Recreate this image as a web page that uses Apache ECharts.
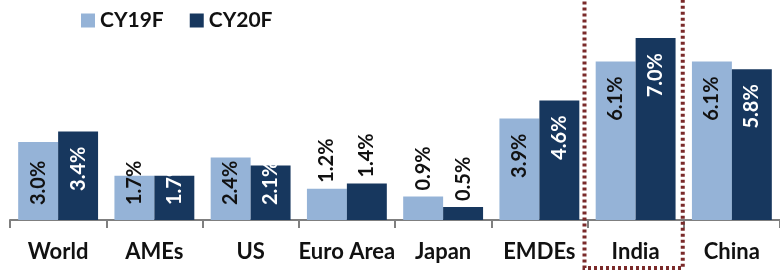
<!DOCTYPE html>
<html>
<head>
<meta charset="utf-8">
<script src="https://cdn.jsdelivr.net/npm/echarts@6/dist/echarts.min.js"></script>
<style>
  html, body { margin: 0; padding: 0; background: #fff; }
  #chart { width: 780px; height: 271px; }
</style>
</head>
<body>
<div id="chart"></div>
<script>
const categories = ['World', 'AMEs', 'US', 'Euro Area', 'Japan', 'EMDEs', 'India', 'China']
const seriesNames = ['CY19F', 'CY20F']
const cy19 = [3.0, 1.7, 2.4, 1.2, 0.9, 3.9, 6.1, 6.1]
const cy20 = [3.4, 1.7, 2.1, 1.4, 0.5, 4.6, 7.0, 5.8]
const highlight = 'India'

const FONT = 'Lato'
const LIGHT = '#95B3D7'
const DARK = '#17375E'

// label placement rule: tall bars get the label near the top, short ones near the base, tiny ones above
function labelFor (v, color) {
  if (v < 1.5) {
    return { position: 'top', distance: 6, align: 'left', verticalAlign: 'middle', color: '#111' }
  }
  if (v < 3.2) {
    return { position: 'insideBottom', distance: 15, align: 'left', verticalAlign: 'middle', color: color }
  }
  return { position: 'insideTop', distance: 15, align: 'right', verticalAlign: 'middle', color: color }
}

function buildData (values, color) {
  return values.map(v => ({ value: v, label: labelFor(v, color) }))
}

const chart = echarts.init(document.getElementById('chart'))

const baseLabel = {
  show: true,
  rotate: 90,
  fontFamily: FONT,
  fontWeight: 'bold',
  fontSize: 20,
  formatter: p => p.value.toFixed(1) + '%'
}

const option = {
  animation: false,
  legend: {
    left: 81,
    top: 10,
    padding: 0,
    icon: 'rect',
    itemWidth: 14,
    itemHeight: 14,
    itemGap: 26,
    textStyle: { fontFamily: FONT, fontWeight: 'bold', fontSize: 21, color: '#111' },
    data: seriesNames
  },
  grid: { left: 10, right: -4, top: 12, bottom: 51, containLabel: false },
  xAxis: {
    type: 'category',
    data: categories,
    axisLine: { show: true, lineStyle: { color: '#7f7f7f', width: 2 } },
    axisTick: { show: true, length: 8, lineStyle: { color: '#7f7f7f', width: 2 } },
    axisLabel: { interval: 0, margin: 21, fontFamily: FONT, fontWeight: 'bold', fontSize: 22, color: '#111' }
  },
  yAxis: {
    type: 'value',
    min: 0,
    max: 8,
    show: false,
    splitLine: { show: false }
  },
  series: [
    {
      name: seriesNames[0],
      type: 'bar',
      barGap: 0,
      barCategoryGap: '17%',
      itemStyle: { color: LIGHT },
      label: baseLabel,
      data: buildData(cy19, '#111')
    },
    {
      name: seriesNames[1],
      type: 'bar',
      barGap: 0,
      barCategoryGap: '17%',
      itemStyle: { color: DARK },
      label: baseLabel,
      data: buildData(cy20, '#fff')
    }
  ]
}
chart.setOption(option)

// dotted box around the highlighted category, placed from the axis scale
const idx = categories.indexOf(highlight)
const c0 = chart.convertToPixel({ xAxisIndex: 0 }, idx)
const c1 = chart.convertToPixel({ xAxisIndex: 0 }, idx + 1)
const band = c1 - c0
chart.setOption({
  graphic: [{
    type: 'rect',
    z: 100,
    shape: { x: c0 - band / 2 - 3, y: -4, width: band + 2, height: 272 },
    style: { fill: 'none', stroke: '#7a2a2a', lineWidth: 4, lineDash: [3, 3] }
  }]
})
</script>
</body>
</html>
